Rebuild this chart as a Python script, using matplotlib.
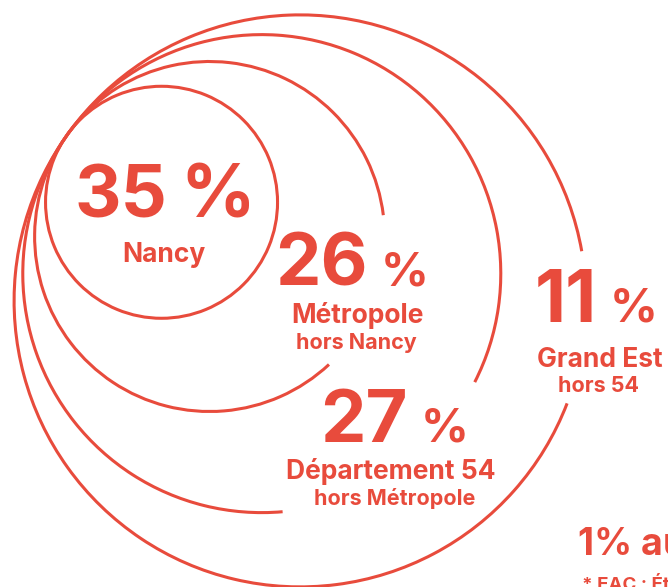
import numpy as np
import matplotlib
matplotlib.use("Agg")
import matplotlib.pyplot as plt
from matplotlib.patches import Arc

# --- Donnees ---
parts = [35, 26, 27, 11]
labels = ["Nancy", "Métropole", "Département 54", "Grand Est"]
sublabels = ["", "hors Nancy", "hors Métropole", "hors 54"]
rest_text = "1% autres régions"
note_text = "* EAC : Établissements"

RED = "#E84B3C"
W, H = 668, 587
plt.rcParams["font.family"] = ["Inter", "DejaVu Sans"]

fig = plt.figure(figsize=(W / 100, H / 100), dpi=100)
ax = fig.add_axes([0, 0, 1, 1])
ax.set_xlim(0, W)
ax.set_ylim(0, H)
ax.set_aspect("equal")
ax.axis("off")

# cercles tangents interieurement au meme point (haut gauche)
tangent = np.array([67.0, H - 135.0])
u = np.array([0.815, -0.580])
radii = [116, 175, 239, 286]
gaps = [None, (7, 313), (-27, 275), (10, 339)]
for r, g in zip(radii, gaps):
    c = tangent + r * u
    t1, t2 = g if g else (0, 360)
    ax.add_patch(Arc(c, 2 * r, 2 * r, theta1=t1, theta2=t2,
                     color=RED, lw=2.2))

# textes (positions en pixels image, y vers le bas)
num_pos = [(167, 218), (368, 285), (408, 442), (597, 322)]
pct_size = [53, 34, 34, 34]
lab_pos = [(164, 262), (357, 323), (391, 479), (600, 367)]
sub_pos = [None, (356, 349), (395, 505), (598, 392)]

for i, p in enumerate(parts):
    x, y = num_pos[i]
    ax.text(x, H - y, str(p), color=RED, fontsize=52, fontweight="bold",
            ha="right", va="baseline")
    ax.text(x + 13, H - y, "%", color=RED, fontsize=pct_size[i],
            fontweight="bold", ha="left", va="baseline")
    lx, ly = lab_pos[i]
    ax.text(lx, H - ly, labels[i], color=RED, fontsize=19,
            fontweight="bold", ha="center", va="baseline")
    if sub_pos[i]:
        sx, sy = sub_pos[i]
        ax.text(sx, H - sy, sublabels[i], color=RED, fontsize=15.5,
                fontweight="bold", ha="center", va="baseline")

ax.text(578, H - 555, rest_text, color=RED, fontsize=27,
        fontweight="bold", ha="left", va="baseline")
ax.text(582, H - 590, note_text, color=RED, fontsize=13.5,
        fontweight="bold", ha="left", va="baseline")

fig.savefig("out.png", dpi=100)
